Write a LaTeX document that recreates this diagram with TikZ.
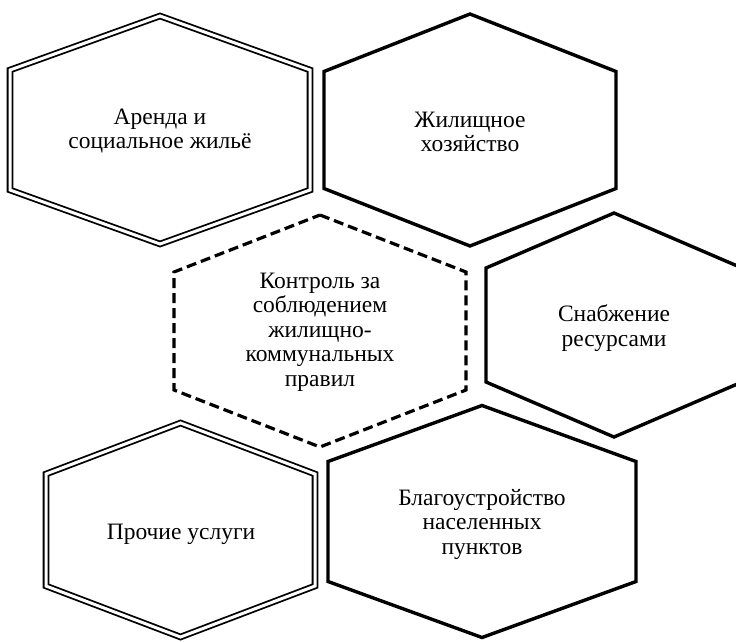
\documentclass[tikz,border=0pt]{standalone}
\usepackage{fontspec}
\setmainfont{Liberation Serif}
\tikzset{
  x=1pt, y=-1pt,
  dbl/.style={draw=black, line width=1.8pt, double=white, double distance=3pt, line join=miter},
  thk/.style={draw=black, line width=3.4pt, line join=miter},
  dsh/.style={draw=black, line width=3.2pt, dash pattern=on 10pt off 5pt, line join=miter},
  lbl/.style={align=center, font=\fontsize{23.5}{24.5}\selectfont, inner sep=0pt}
}
\newcommand\myhex[6]{%
  \draw[#1] (#2,#3-#6) -- (#2+#4,#3-#5) -- (#2+#4,#3+#5) -- (#2,#3+#6) -- (#2-#4,#3+#5) -- (#2-#4,#3-#5) -- cycle;}
\begin{document}
\begin{tikzpicture}
\useasboundingbox (0,0) rectangle (736,642);
\clip (0,0) rectangle (736,642);
\myhex{dbl}{160}{130}{150}{60}{114}
\myhex{thk}{470}{130}{146}{58.5}{116}
\myhex{dsh}{320}{331}{146}{59}{116}
\myhex{thk}{614}{325}{128}{57}{112}
\myhex{dbl}{180.5}{530}{134.5}{56}{107}
\myhex{thk}{482}{521.5}{154}{60}{116}
\node[lbl] (arenda) at (160,131) {Аренда и\\социальное жильё};
\node[lbl] (zhil) at (470,132) {Жилищное\\хозяйство};
\node[lbl] (kontrol) at (320,332) {Контроль за\\соблюдением\\жилищно-\\коммунальных\\правил};
\node[lbl] (snab) at (614,328) {Снабжение\\ресурсами};
\node[lbl] (prochie) at (181,534) {Прочие услуги};
\node[lbl] (blago) at (482,524) {Благоустройство\\населенных\\пунктов};
\end{tikzpicture}
\end{document}
